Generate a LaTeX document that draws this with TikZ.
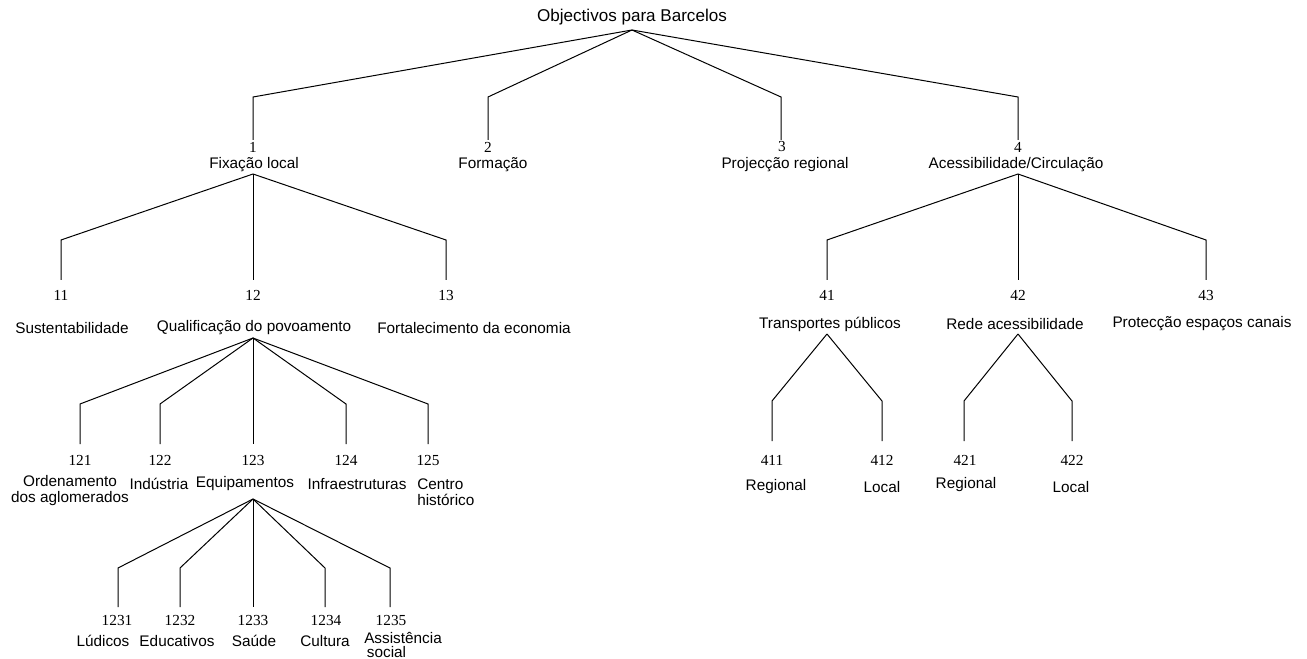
\documentclass[tikz,border=0pt]{standalone}
\usepackage{fontspec}
\setmainfont{Liberation Serif}
\setsansfont{Liberation Sans}
\begin{document}
\begin{tikzpicture}[x=0.75pt,y=-0.75pt,
  lab/.style={font=\sffamily\fontsize{11.5}{12}\selectfont, inner sep=0pt, align=center},
  labl/.style={font=\sffamily\fontsize{11.5}{12}\selectfont, inner sep=0pt, align=left, anchor=west},
  num/.style={font=\rmfamily\fontsize{11.5}{11.5}\selectfont, inner sep=0pt},
  edge/.style={line width=0.75pt, line join=miter}]
\useasboundingbox (0,0) rectangle (1307,659);

% ---------- root ----------
\node[lab, font=\sffamily\fontsize{12.8}{13}\selectfont] (root) at (632,17) {Objectivos para Barcelos};
\coordinate (a0) at (632,30);

% ---------- level 1 ----------
\node[num] (n1) at (253,147) {1};
\node[num] (n2) at (488,147) {2};
\node[num] (n3) at (782,147) {3};
\node[num] (n4) at (1018,147) {4};
\node[lab] (l1) at (254,165) {Fixação local};
\node[lab] (l2) at (493,165) {Formação};
\node[lab] (l3) at (785,165) {Projecção regional};
\node[lab] (l4) at (1016,165) {Acessibilidade/Circulação};
\coordinate (k1) at (253,97);  \coordinate (e1) at (253,140);
\coordinate (k2) at (488,97);  \coordinate (e2) at (488,140);
\coordinate (k3) at (781,97);  \coordinate (e3) at (781,140);
\coordinate (k4) at (1018,97); \coordinate (e4) at (1018,140);
\draw[edge] (a0) -- (k1) -- (e1);
\draw[edge] (a0) -- (k2) -- (e2);
\draw[edge] (a0) -- (k3) -- (e3);
\draw[edge] (a0) -- (k4) -- (e4);

% ---------- children of 1 ----------
\coordinate (a1) at (253,174);
\node[num] (n11) at (61,295) {11};
\node[num] (n12) at (253,295) {12};
\node[num] (n13) at (446,295) {13};
\node[lab] (l11) at (72,328) {Sustentabilidade};
\node[lab] (l12) at (254,328) {Qualificação do povoamento};
\node[lab] (l13) at (474,328) {Fortalecimento da economia};
\coordinate (k11) at (61,240);  \coordinate (e11) at (61,280);
\coordinate (e12) at (253,280);
\coordinate (k13) at (446,240); \coordinate (e13) at (446,280);
\draw[edge] (a1) -- (k11) -- (e11);
\draw[edge] (a1) -- (e12);
\draw[edge] (a1) -- (k13) -- (e13);

% ---------- children of 4 ----------
\coordinate (a4) at (1018,174);
\node[num] (n41) at (827,295) {41};
\node[num] (n42) at (1018,295) {42};
\node[num] (n43) at (1206,295) {43};
\node[lab] (l41) at (830,324) {Transportes públicos};
\node[lab] (l42) at (1015,324) {Rede acessibilidade};
\node[lab] (l43) at (1202,324) {Protecção espaços canais};
\coordinate (k41) at (827,240);  \coordinate (e41) at (827,280);
\coordinate (e42) at (1018,280);
\coordinate (k43) at (1206,240); \coordinate (e43) at (1206,280);
\draw[edge] (a4) -- (k41) -- (e41);
\draw[edge] (a4) -- (e42);
\draw[edge] (a4) -- (k43) -- (e43);

% ---------- children of 12 ----------
\coordinate (a12) at (253,338);
\node[num] (n121) at (80,460) {121};
\node[num] (n122) at (160,460) {122};
\node[num] (n123) at (253,460) {123};
\node[num] (n124) at (346,460) {124};
\node[num] (n125) at (428,460) {125};
\node[lab] (l121) at (70,491) {Ordenamento\\dos aglomerados};
\node[lab] (l122) at (159,484) {Indústria};
\node[lab] (l123) at (245,484) {Equipamentos};
\node[lab] (l124) at (357,484) {Infraestruturas};
\node[labl] (l125) at (417,492) {Centro\\histórico};
\coordinate (k121) at (80,404);  \coordinate (e121) at (80,444);
\coordinate (k122) at (160,404); \coordinate (e122) at (160,444);
\coordinate (e123) at (253,444);
\coordinate (k124) at (346,404); \coordinate (e124) at (346,444);
\coordinate (k125) at (428,404); \coordinate (e125) at (428,444);
\draw[edge] (a12) -- (k121) -- (e121);
\draw[edge] (a12) -- (k122) -- (e122);
\draw[edge] (a12) -- (e123);
\draw[edge] (a12) -- (k124) -- (e124);
\draw[edge] (a12) -- (k125) -- (e125);

% ---------- children of 123 ----------
\coordinate (a123) at (253,499);
\node[num] (n1231) at (117,620) {1231};
\node[num] (n1232) at (180,620) {1232};
\node[num] (n1233) at (253,620) {1233};
\node[num] (n1234) at (326,620) {1234};
\node[num] (n1235) at (391,620) {1235};
\node[lab] (l1231) at (103,641) {Lúdicos};
\node[lab] (l1232) at (177,641) {Educativos};
\node[lab] (l1233) at (254,641) {Saúde};
\node[lab] (l1234) at (325,641) {Cultura};
\node[labl, font=\sffamily\fontsize{11.5}{10.6}\selectfont, anchor=north west] (l1235) at (364,632) {Assistência\\\hspace*{2pt}social};
\coordinate (k1231) at (118,568); \coordinate (e1231) at (118,607);
\coordinate (k1232) at (180,568); \coordinate (e1232) at (180,607);
\coordinate (e1233) at (253,607);
\coordinate (k1234) at (325,568); \coordinate (e1234) at (325,607);
\coordinate (k1235) at (390,568); \coordinate (e1235) at (390,607);
\draw[edge] (a123) -- (k1231) -- (e1231);
\draw[edge] (a123) -- (k1232) -- (e1232);
\draw[edge] (a123) -- (e1233);
\draw[edge] (a123) -- (k1234) -- (e1234);
\draw[edge] (a123) -- (k1235) -- (e1235);

% ---------- children of 41 ----------
\coordinate (a41) at (827,334);
\node[num] (n411) at (772,460) {411};
\node[num] (n412) at (882,460) {412};
\node[lab] (l411) at (776,487) {Regional};
\node[lab] (l412) at (882,487) {Local};
\coordinate (k411) at (772,401); \coordinate (e411) at (772,441);
\coordinate (k412) at (882,401); \coordinate (e412) at (882,441);
\draw[edge] (a41) -- (k411) -- (e411);
\draw[edge] (a41) -- (k412) -- (e412);

% ---------- children of 42 ----------
\coordinate (a42) at (1018,334);
\node[num] (n421) at (965,460) {421};
\node[num] (n422) at (1072,460) {422};
\node[lab] (l421) at (966,485) {Regional};
\node[lab] (l422) at (1071,487) {Local};
\coordinate (k421) at (964,401);  \coordinate (e421) at (964,441);
\coordinate (k422) at (1072,401); \coordinate (e422) at (1072,441);
\draw[edge] (a42) -- (k421) -- (e421);
\draw[edge] (a42) -- (k422) -- (e422);
\end{tikzpicture}
\end{document}
